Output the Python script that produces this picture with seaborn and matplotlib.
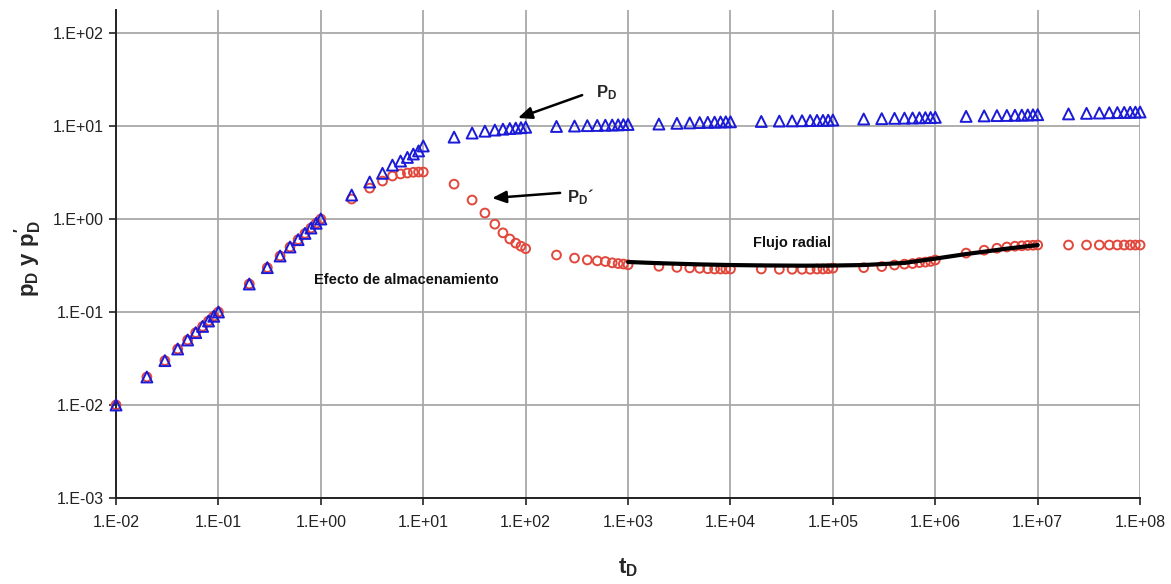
import matplotlib

matplotlib.use("Agg")

import matplotlib.pyplot as plt
import seaborn as sns


# dimensionless time, one point per 1..9 x 10^n
T_D = [
    0.01,
    0.02, 0.03, 0.04, 0.05, 0.06, 0.07, 0.08, 0.09, 0.1,
    0.2, 0.3, 0.4, 0.5, 0.6, 0.7, 0.8, 0.9, 1.0,
    2, 3, 4, 5, 6, 7, 8, 9, 10,
    20, 30, 40, 50, 60, 70, 80, 90, 100,
    200, 300, 400, 500, 600, 700, 800, 900, 1e3,
    2e3, 3e3, 4e3, 5e3, 6e3, 7e3, 8e3, 9e3, 1e4,
    2e4, 3e4, 4e4, 5e4, 6e4, 7e4, 8e4, 9e4, 1e5,
    2e5, 3e5, 4e5, 5e5, 6e5, 7e5, 8e5, 9e5, 1e6,
    2e6, 3e6, 4e6, 5e6, 6e6, 7e6, 8e6, 9e6, 1e7,
    2e7, 3e7, 4e7, 5e7, 6e7, 7e7, 8e7, 9e7, 1e8,
]

P_D = [
    0.01,
    0.02, 0.03, 0.04, 0.05, 0.06, 0.07, 0.08, 0.09, 0.1,
    0.2, 0.3, 0.4, 0.5, 0.6, 0.7, 0.8, 0.9, 1.0,
    1.81, 2.5, 3.1, 3.8, 4.2, 4.6, 5.0, 5.4, 6.1,
    7.6, 8.4, 8.8, 9.05, 9.25, 9.4, 9.5, 9.6, 9.7,
    9.9, 10.0, 10.1, 10.15, 10.2, 10.25, 10.3, 10.35, 10.4,
    10.5, 10.7, 10.8, 10.9, 10.95, 11.0, 11.05, 11.1, 11.1,
    11.2, 11.3, 11.35, 11.4, 11.45, 11.5, 11.5, 11.55, 11.6,
    11.9, 12.0, 12.1, 12.15, 12.2, 12.25, 12.3, 12.35, 12.4,
    12.7, 12.85, 12.95, 13.0, 13.05, 13.1, 13.15, 13.2, 13.25,
    13.5, 13.7, 13.8, 13.9, 13.95, 14.0, 14.05, 14.1, 14.15,
]

P_D_PRIME = [
    0.01,
    0.02, 0.03, 0.04, 0.05, 0.06, 0.07, 0.08, 0.09, 0.1,
    0.2, 0.3, 0.4, 0.5, 0.6, 0.7, 0.8, 0.9, 1.0,
    1.64, 2.15, 2.56, 2.9, 3.05, 3.12, 3.18, 3.2, 3.2,
    2.37, 1.6, 1.16, 0.88, 0.71, 0.61, 0.55, 0.51, 0.48,
    0.41, 0.38, 0.363, 0.355, 0.349, 0.338, 0.332, 0.328, 0.322,
    0.31, 0.302, 0.298, 0.295, 0.292, 0.29, 0.29, 0.29, 0.29,
    0.29, 0.288, 0.288, 0.288, 0.288, 0.29, 0.29, 0.292, 0.296,
    0.30, 0.308, 0.32, 0.327, 0.332, 0.34, 0.344, 0.35, 0.362,
    0.43, 0.462, 0.485, 0.5, 0.51, 0.515, 0.52, 0.522, 0.525,
    0.525, 0.525, 0.525, 0.525, 0.525, 0.525, 0.525, 0.525, 0.525,
]

# hand-drawn radial flow trend
RADIAL_T = [1e3, 2e3, 5e3, 1e4, 2e4, 5e4, 1e5, 2e5, 5e5, 1e6, 2e6, 3e6, 5e6, 1e7]
RADIAL_P = [0.345, 0.335, 0.325, 0.32, 0.317, 0.315, 0.316, 0.32, 0.337, 0.375,
            0.42, 0.445, 0.48, 0.525]

X_TICKS = [1e-2, 1e-1, 1e0, 1e1, 1e2, 1e3, 1e4, 1e5, 1e6, 1e7, 1e8]
X_TICK_LABELS = ["1.E-02", "1.E-01", "1.E+00", "1.E+01", "1.E+02", "1.E+03",
                 "1.E+04", "1.E+05", "1.E+06", "1.E+07", "1.E+08"]
Y_TICKS = [1e-3, 1e-2, 1e-1, 1e0, 1e1, 1e2]
Y_TICK_LABELS = ["1.E-03", "1.E-02", "1.E-01", "1.E+00", "1.E+01", "1.E+02"]

BLUE = "#1a1ad8"
RED = "#e2473c"

sns.set_theme(style="white")
plt.rcParams["font.family"] = ["Liberation Sans", "DejaVu Sans"]
plt.rcParams["mathtext.fontset"] = "custom"
plt.rcParams["mathtext.rm"] = "Liberation Sans"
plt.rcParams["mathtext.bf"] = "Liberation Sans:bold"
plt.rcParams["mathtext.it"] = "Liberation Sans:italic"

fig = plt.figure(figsize=(11.71, 5.84), dpi=100)
ax = fig.add_axes([0.0991, 0.1473, 0.8745, 0.8356])
ax.set(xscale="log", yscale="log")

sns.scatterplot(x=T_D, y=P_D_PRIME, marker="o", s=40, facecolor="none",
                edgecolor=RED, linewidth=1.4, ax=ax, zorder=3, clip_on=False)
sns.scatterplot(x=T_D, y=P_D, marker="^", s=62, facecolor="none",
                edgecolor=BLUE, linewidth=1.4, ax=ax, zorder=4, clip_on=False)
sns.lineplot(x=RADIAL_T, y=RADIAL_P, color="black", linewidth=3.0, ax=ax,
             zorder=5)

ax.set_xlim(1e-2, 1e8)
ax.set_ylim(1e-3, 177)
ax.minorticks_off()
ax.set_xticks(X_TICKS, X_TICK_LABELS)
ax.set_yticks(Y_TICKS, Y_TICK_LABELS)
ax.tick_params(axis="both", which="major", direction="out", length=5, width=1.2,
               color="#222222", labelsize=11.5, labelcolor="#222222", pad=4,
               bottom=True, left=True)
ax.tick_params(axis="x", pad=7)

ax.grid(True, which="major", color="#a8a8a8", linewidth=1.3)
ax.set_axisbelow(True)
for side in ["top", "right"]:
    ax.spines[side].set_visible(False)
for side in ["left", "bottom"]:
    ax.spines[side].set_color("#222222")
    ax.spines[side].set_linewidth(1.4)

ax.set_ylabel(r"$\mathbf{p_D\ y\ p_D'}$", fontsize=16)
ax.yaxis.set_label_coords(-0.07, 0.49)
ax.set_xlabel(r"$\mathbf{t_D}$", fontsize=16)
ax.xaxis.set_label_coords(0.5, -0.12)

arrow = dict(arrowstyle="-|>,head_length=0.7,head_width=0.3", color="black",
             linewidth=1.8, shrinkA=0, shrinkB=0)
ax.annotate("", xy=(84, 12.2), xytext=(356, 21.5), arrowprops=arrow)
ax.annotate("", xy=(47, 1.68), xytext=(217, 1.91), arrowprops=arrow)
ax.text(487, 23.0, r"$\mathbf{P_D}$", fontsize=12, ha="left", va="center")
ax.text(254, 1.72, r"$\mathbf{P_D}$´", fontsize=12, fontweight="bold",
        ha="left", va="center")

ax.text(6.8, 0.221, "Efecto de almacenamiento", fontsize=10.5,
        fontweight="bold", ha="center", va="center", color="#111111")
ax.text(4.0e4, 0.552, "Flujo radial", fontsize=10.5, fontweight="bold",
        ha="center", va="center", color="#111111")

fig.savefig("out.png", dpi=100, facecolor="white")
